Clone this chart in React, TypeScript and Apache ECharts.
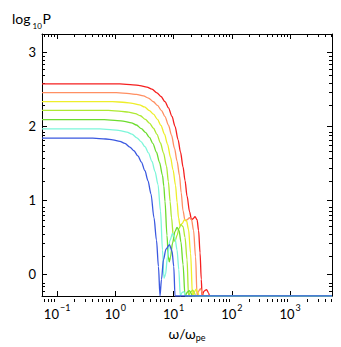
import React, { useEffect, useRef } from "react";
import * as echarts from "echarts";

// x values are log10(ω/ωpe); y values are log10 P
const X_MIN = -1.26;
const X_MAX = 3.72;
const Y_MIN = -0.3;
const Y_MAX = 3.25;

const xTickExponents = [-1, 0, 1, 2, 3];
const yTickValues = [0, 1, 2, 3];

const seriesColors = ["#f51f1f", "#ff8f62", "#eeee2a", "#aee932", "#6cdc2e", "#7df6da", "#3a58e0"];

const curveRed: [number, number][] = [
  [-1.26, 2.575], [0.077, 2.575], [0.301, 2.562], [0.422, 2.551], [0.542, 2.531], [0.628, 2.502],
  [0.714, 2.452], [0.783, 2.403], [0.852, 2.333], [0.912, 2.25], [0.972, 2.134], [1.024, 1.999],
  [1.076, 1.82], [1.119, 1.648], [1.162, 1.449], [1.196, 1.264], [1.231, 1.052], [1.274, 0.84],
  [1.308, 0.734], [1.334, 0.747], [1.368, 0.774], [1.403, 0.734], [1.429, 0.588], [1.454, 0.284],
  [1.475, -0.073], [1.489, -0.3], [1.523, -0.233], [1.566, -0.213], [1.601, -0.26], [1.618, -0.3],
  [3.72, -0.3],
];
const curveOrange: [number, number][] = [
  [-1.26, 2.455], [0.017, 2.455], [0.241, 2.442], [0.362, 2.431], [0.482, 2.411], [0.568, 2.382],
  [0.654, 2.332], [0.723, 2.283], [0.792, 2.213], [0.852, 2.13], [0.912, 2.014], [0.964, 1.879],
  [1.016, 1.7], [1.059, 1.528], [1.102, 1.329], [1.13, 1.1], [1.162, 0.853], [1.196, 0.721],
  [1.231, 0.734], [1.274, 0.76], [1.308, 0.734], [1.343, 0.588], [1.377, 0.23], [1.403, -0.3],
  [1.429, -0.233], [1.46, -0.2], [1.492, -0.253], [1.515, -0.3], [3.72, -0.3],
];
const curveYellow: [number, number][] = [
  [-1.26, 2.335], [-0.052, 2.335], [0.172, 2.322], [0.293, 2.311], [0.413, 2.291], [0.499, 2.262],
  [0.585, 2.212], [0.654, 2.163], [0.723, 2.093], [0.783, 2.01], [0.843, 1.894], [0.895, 1.759],
  [0.947, 1.58], [0.99, 1.41], [1.033, 1.2], [1.06, 0.97], [1.084, 0.76], [1.11, 0.654],
  [1.145, 0.681], [1.188, 0.734], [1.222, 0.721], [1.256, 0.601], [1.291, 0.283], [1.325, -0.3],
  [1.356, -0.246], [1.386, -0.207], [1.417, -0.26], [1.437, -0.3], [3.72, -0.3],
];
const curveLime: [number, number][] = [
  [-1.26, 2.215], [-0.121, 2.215], [0.103, 2.202], [0.224, 2.191], [0.344, 2.171], [0.43, 2.142],
  [0.516, 2.092], [0.585, 2.043], [0.654, 1.973], [0.714, 1.89], [0.774, 1.774], [0.826, 1.639],
  [0.878, 1.46], [0.91, 1.25], [0.94, 0.98], [0.964, 0.76], [0.998, 0.482], [1.024, 0.442],
  [1.059, 0.522], [1.093, 0.615], [1.127, 0.668], [1.162, 0.641], [1.196, 0.495], [1.231, 0.191],
  [1.256, -0.3], [1.291, -0.246], [1.329, -0.22], [1.36, -0.26], [1.377, -0.3], [3.72, -0.3],
];
const curveGreen: [number, number][] = [
  [-1.26, 2.09], [-0.19, 2.09], [0.034, 2.077], [0.155, 2.066], [0.275, 2.046], [0.361, 2.017],
  [0.447, 1.967], [0.516, 1.918], [0.585, 1.848], [0.645, 1.765], [0.705, 1.649], [0.757, 1.514],
  [0.809, 1.335], [0.832, 1.19], [0.852, 0.985], [0.886, 0.522], [0.909, 0.23], [0.926, 0.164],
  [0.947, 0.23], [0.981, 0.416], [1.024, 0.575], [1.059, 0.628], [1.093, 0.588], [1.127, 0.429],
  [1.162, 0.125], [1.196, -0.3], [1.239, -0.246], [1.27, -0.226], [1.3, -0.26], [1.317, -0.3],
  [3.72, -0.3],
];
const curveCyan: [number, number][] = [
  [-1.26, 1.965], [-0.267, 1.965], [-0.043, 1.952], [0.078, 1.941], [0.198, 1.921], [0.284, 1.892],
  [0.37, 1.842], [0.439, 1.793], [0.508, 1.723], [0.568, 1.64], [0.628, 1.524], [0.68, 1.389],
  [0.732, 1.21], [0.775, 0.853], [0.809, 0.323], [0.835, -0.061], [0.861, -0.008], [0.895, 0.23],
  [0.938, 0.456], [0.981, 0.548], [1.024, 0.482], [1.059, 0.323], [1.089, 0.058], [1.115, -0.3],
  [1.145, -0.253], [1.176, -0.24], [1.205, -0.3], [3.72, -0.3],
];
const curveBlue: [number, number][] = [
  [-1.26, 1.84], [-0.388, 1.84], [-0.164, 1.827], [-0.043, 1.816], [0.077, 1.796], [0.163, 1.767],
  [0.249, 1.717], [0.318, 1.668], [0.387, 1.598], [0.447, 1.515], [0.507, 1.399], [0.559, 1.264],
  [0.611, 1.085], [0.663, 0.76], [0.706, 0.456], [0.74, 0.098], [0.766, -0.3], [0.792, -0.074],
  [0.826, 0.191], [0.869, 0.336], [0.929, 0.396], [0.972, 0.31], [1.003, 0.098], [1.024, -0.3],
  [3.72, -0.3],
];

const curves = [curveRed, curveOrange, curveYellow, curveLime, curveGreen, curveCyan, curveBlue];

const FONT = "Lato";

function minorLogTicks(lo: number, hi: number): number[] {
  const out: number[] = [];
  for (let k = Math.floor(lo) - 1; k <= Math.ceil(hi); k++) {
    for (let m = 2; m <= 9; m++) {
      const v = k + Math.log10(m);
      if (v > lo && v < hi) out.push(v);
    }
  }
  return out;
}

export default function App() {
  const ref = useRef<HTMLDivElement>(null);
  useEffect(() => {
    if (!ref.current) return;
    const chart = echarts.init(ref.current, undefined, { renderer: "svg" });
    const gridRect = { left: 42, right: 9, top: 34, bottom: 45 };
    const xMinor = minorLogTicks(X_MIN, X_MAX);
    const yMinor = minorLogTicks(Y_MIN, Y_MAX);
    const line = { lineStyle: { color: "#000", width: 1 } };
    const baseX = (gridIndex: number, position: string, ticks: number[], len: number, showLine: boolean) => ({
      type: "value",
      gridIndex,
      position,
      min: X_MIN,
      max: X_MAX,
      axisLine: { show: showLine, onZero: false, ...line },
      axisTick: { show: true, inside: true, length: len, customValues: ticks, ...line },
      axisLabel: { show: false },
      splitLine: { show: false },
    });
    const baseY = (gridIndex: number, position: string, ticks: number[], len: number, showLine: boolean) => ({
      type: "value",
      gridIndex,
      position,
      min: Y_MIN,
      max: Y_MAX,
      axisLine: { show: showLine, onZero: false, ...line },
      axisTick: { show: true, inside: true, length: len, customValues: ticks, ...line },
      axisLabel: { show: false },
      splitLine: { show: false },
    });
    const xBottom: any = baseX(0, "bottom", xTickExponents, 5, true);
    xBottom.axisLabel = {
      show: true,
      customValues: xTickExponents,
      margin: 7,
      formatter: (v: number) => {
        const e = Math.round(v);
        return "{b|10}{s|" + (e < 0 ? "\u2212" + Math.abs(e) : String(e)) + "}";
      },
      rich: {
        b: { fontFamily: FONT, fontSize: 13, color: "#000", lineHeight: 17, verticalAlign: "bottom" },
        s: { fontFamily: FONT, fontSize: 9, color: "#000", lineHeight: 17, verticalAlign: "top", padding: [0, 0, 3, 1] },
      },
    };
    xBottom.name = "{w|\u03c9/\u03c9}{sub|pe}";
    xBottom.nameLocation = "middle";
    xBottom.nameGap = 28;
    xBottom.nameTextStyle = {
      rich: {
        w: { fontFamily: FONT, fontSize: 14, color: "#000", lineHeight: 18 },
        sub: { fontFamily: FONT, fontSize: 9, color: "#000", lineHeight: 18, verticalAlign: "bottom", padding: [6, 0, 0, 0] },
      },
    };
    const yLeft: any = baseY(0, "left", yTickValues, 5, true);
    yLeft.axisLabel = {
      show: true,
      customValues: yTickValues,
      margin: 6,
      fontFamily: FONT,
      fontSize: 13,
      color: "#000",
    };

    chart.setOption({
      animation: false,
      backgroundColor: "#fff",
      grid: [
        { ...gridRect, containLabel: false },
        { ...gridRect, containLabel: false },
      ],
      xAxis: [
        xBottom,
        baseX(0, "top", xTickExponents, 5, true),
        baseX(1, "bottom", xMinor, 3, false),
        baseX(1, "top", xMinor, 3, false),
      ],
      yAxis: [
        yLeft,
        baseY(0, "right", yTickValues, 5, true),
        baseY(1, "left", yMinor, 3, false),
        baseY(1, "right", yMinor, 3, false),
      ],
      graphic: [
        {
          type: "text",
          x: 12,
          y: 25,
          style: { text: "log", font: `14px ${FONT}`, fill: "#000", textVerticalAlign: "bottom" },
        },
        {
          type: "text",
          x: 32.5,
          y: 30,
          style: { text: "10", font: `8px ${FONT}`, fill: "#000", textVerticalAlign: "bottom" },
        },
        {
          type: "text",
          x: 42.5,
          y: 25,
          style: { text: "P", font: `14px ${FONT}`, fill: "#000", textVerticalAlign: "bottom" },
        },
      ],
      series: curves.map((c, i) => ({
        type: "line",
        xAxisIndex: 0,
        yAxisIndex: 0,
        data: c,
        showSymbol: false,
        smooth: 0.3,
        smoothMonotone: "x",
        clip: true,
        lineStyle: { color: seriesColors[i], width: 1.3 },
        z: 2 + i,
      })),
    });
    return () => chart.dispose();
  }, []);
  return <div ref={ref} style={{ position: "absolute", left: 0, top: 0, width: 341, height: 347 }} />;
}
